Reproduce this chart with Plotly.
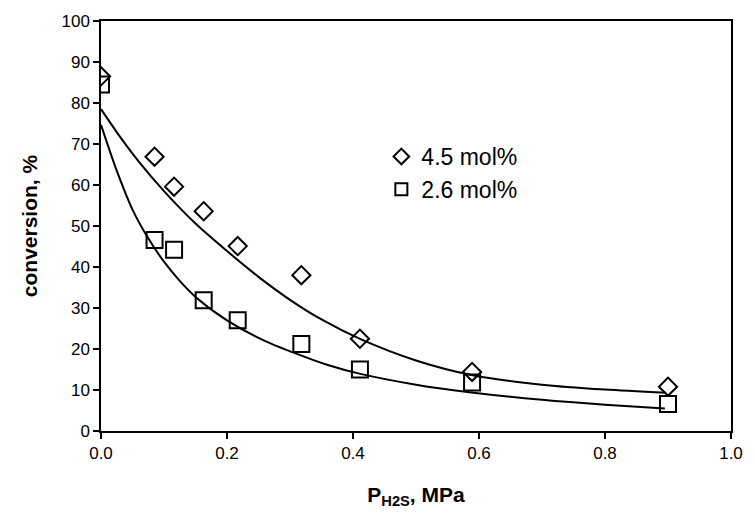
import plotly.graph_objects as go

# measured data
p_h2s = [0.0, 0.085, 0.116, 0.163, 0.217, 0.318, 0.411, 0.589, 0.900]
conv_45 = [86.5, 66.9, 59.6, 53.6, 45.1, 38.0, 22.5, 14.4, 10.8]
conv_26 = [84.5, 46.6, 44.2, 31.9, 27.0, 21.2, 15.0, 11.8, 6.6]

# fitted curves
fit45_x = [0.0, 0.03, 0.06, 0.1, 0.15, 0.2, 0.25, 0.3, 0.35, 0.412, 0.5, 0.59, 0.7, 0.8, 0.897]
fit45_y = [78.5, 71.8, 65.7, 58.5, 50.6, 43.9, 37.6, 32.0, 27.2, 22.4, 17.2, 13.6, 11.3, 10.1, 9.3]
fit26_x = [0.0, 0.025, 0.05, 0.075, 0.1, 0.125, 0.15, 0.2, 0.26, 0.313, 0.36, 0.41, 0.5, 0.588, 0.7, 0.8, 0.895]
fit26_y = [74.7, 63.5, 54.0, 47.0, 41.3, 36.6, 32.7, 27.0, 22.0, 18.7, 16.1, 14.0, 11.3, 9.4, 7.6, 6.4, 5.5]

x_ticks = [0.0, 0.2, 0.4, 0.6, 0.8, 1.0]
x_ticklabels = ["0.0", "0.2", "0.4", "0.6", "0.8", "1.0"]

FONT = "Liberation Sans, Arial, sans-serif"

fig = go.Figure()
fig.add_trace(go.Scatter(x=fit45_x, y=fit45_y, mode="lines",
                         line=dict(color="black", width=2, shape="spline", smoothing=0.8),
                         showlegend=False, hoverinfo="skip"))
fig.add_trace(go.Scatter(x=fit26_x, y=fit26_y, mode="lines",
                         line=dict(color="black", width=2, shape="spline", smoothing=0.8),
                         showlegend=False, hoverinfo="skip"))
fig.add_trace(go.Scatter(x=p_h2s, y=conv_45, mode="markers", name="4.5 mol%",
                         marker=dict(symbol="diamond-open", size=14, color="black", line=dict(width=2, color="black"))))
fig.add_trace(go.Scatter(x=p_h2s, y=conv_26, mode="markers", name="2.6 mol%",
                         marker=dict(symbol="square-open", size=16, color="black", line=dict(width=2, color="black"))))

fig.update_layout(
    width=755, height=524,
    margin=dict(l=101, r=20, t=20, b=93),
    paper_bgcolor="white", plot_bgcolor="white",
    font=dict(family=FONT, color="black", size=16),
    legend=dict(x=0.445, y=0.722, xanchor="left", yanchor="top", bgcolor="rgba(0,0,0,0)",
                font=dict(size=23, family=FONT), tracegroupgap=0, itemsizing="constant"),
    xaxis=dict(range=[0, 1], tickvals=x_ticks, ticktext=x_ticklabels, showgrid=False, zeroline=False,
               showline=True, linecolor="black", linewidth=1.5, mirror=True,
               ticks="outside", ticklen=6, tickwidth=1.5, tickcolor="black",
               tickfont=dict(size=17),
               title=dict(text="<b>P<sub>H2S</sub>, MPa</b>", font=dict(size=21), standoff=25)),
    yaxis=dict(range=[0, 100], dtick=10, showgrid=False, zeroline=False,
               showline=True, linecolor="black", linewidth=1.5, mirror=True,
               ticks="outside", ticklen=6, tickwidth=1.5, tickcolor="black",
               tickfont=dict(size=17),
               title=dict(text="<b>conversion, %</b>", font=dict(size=21), standoff=18)),
)

fig.write_html("out.html")
